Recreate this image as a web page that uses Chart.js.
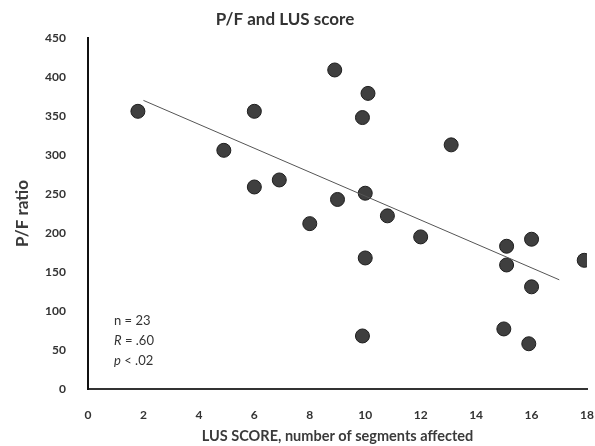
<!DOCTYPE html>
<html lang="en">
<head>
    <meta charset="UTF-8">
    <title>P/F and LUS score</title>
    <script src="https://cdn.jsdelivr.net/npm/chart.js"></script>
    <style>
        * { margin: 0; padding: 0; box-sizing: border-box; }
        body { background: #fff; width: 595px; height: 446px; overflow: hidden; }
        #wrap { position: relative; width: 595px; height: 446px; }
    </style>
</head>
<body>
    <div id="wrap"><canvas id="myChart"></canvas></div>

    <script>
        // LUS score (x) and P/F ratio (y) for each patient
        const lusScore = [1.8, 6.0, 4.9, 8.9, 10.1, 9.9, 6.0, 6.9, 9.0, 10.0, 8.0, 10.0,
                          13.1, 10.8, 12.0, 15.1, 16.0, 17.9, 15.1, 16.0, 9.9, 15.0, 15.9];
        const pfRatio = [356, 356, 306, 409, 379, 348, 259, 268, 243, 251, 212, 168,
                         313, 222, 195, 183, 192, 165, 159, 131, 68, 77, 58];

        // regression line end points
        const trendX = [2, 17];
        const trendY = [370, 140];

        const xTicks = [0, 2, 4, 6, 8, 10, 12, 14, 16, 18];
        const yTicks = [0, 50, 100, 150, 200, 250, 300, 350, 400, 450];

        const statsLines = [
            [['n', false], [' = 23', false]],
            [['R', true], [' = .60', false]],
            [['p', true], [' < .02', false]]
        ];

        const FONT = 'Lato, "Open Sans", sans-serif';

        // title and the n / R / p box
        const textPlugin = {
            id: 'textPlugin',
            afterDraw(chart) {
                const ctx = chart.ctx;
                ctx.save();
                ctx.fillStyle = '#333';
                ctx.textAlign = 'center';
                ctx.textBaseline = 'middle';
                ctx.font = 'bold 17px ' + FONT;
                ctx.fillText('P/F and LUS score', 285, 20);

                ctx.textAlign = 'left';
                let y = 321;
                statsLines.forEach(parts => {
                    let x = 114;
                    parts.forEach(([txt, italic]) => {
                        ctx.font = (italic ? 'italic ' : '') + '13px ' + FONT;
                        ctx.fillText(txt, x, y);
                        x += ctx.measureText(txt).width;
                    });
                    y += 20;
                });
                ctx.restore();
            }
        };

        const ctx = document.getElementById('myChart').getContext('2d');

        const chart = new Chart(ctx, {
            data: {
                datasets: [
                    {
                        type: 'line',
                        data: trendX.map((x, i) => ({ x: x, y: trendY[i] })),
                        borderColor: '#555',
                        borderWidth: 1,
                        pointRadius: 0,
                        fill: false
                    },
                    {
                        type: 'scatter',
                        data: lusScore.map((x, i) => ({ x: x, y: pfRatio[i] })),
                        backgroundColor: '#3f3f3f',
                        borderColor: '#1e1e1e',
                        borderWidth: 1,
                        pointRadius: 7,
                        pointHoverRadius: 7
                    }
                ]
            },
            options: {
                responsive: true,
                maintainAspectRatio: false,
                animation: false,
                layout: { padding: { top: 38, right: 8, left: 0, bottom: 0 } },
                scales: {
                    x: {
                        type: 'linear',
                        min: 0,
                        max: 18,
                        afterBuildTicks: s => { s.ticks = xTicks.map(v => ({ value: v })); },
                        afterFit: s => { s.height = 57; s.paddingLeft = 0; s.paddingRight = 0; },
                        grid: { display: false },
                        border: { display: true, color: '#333', width: 2 },
                        ticks: { color: '#333', padding: 11, font: { family: FONT, size: 12, weight: 'bold' } },
                        title: {
                            display: true,
                            text: 'LUS SCORE, number of segments affected',
                            color: '#3a3a3a',
                            padding: { top: 0, bottom: 1 },
                            font: { family: FONT, size: 14.5, weight: 'bold' }
                        }
                    },
                    y: {
                        min: 0,
                        max: 450,
                        afterBuildTicks: s => { s.ticks = yTicks.map(v => ({ value: v })); },
                        afterFit: s => { s.width = 88; s.paddingTop = 0; s.paddingBottom = 0; },
                        grid: { display: false },
                        border: { display: true, color: '#111', width: 2 },
                        ticks: { color: '#333', padding: 14, font: { family: FONT, size: 12, weight: 'bold' } },
                        title: {
                            display: true,
                            text: 'P/F ratio',
                            color: '#3a3a3a',
                            padding: { top: 12, bottom: 0 },
                            font: { family: FONT, size: 17, weight: 'bold' }
                        }
                    }
                },
                plugins: {
                    legend: { display: false },
                    title: { display: false },
                    tooltip: { enabled: false }
                }
            },
            plugins: [textPlugin]
        });
    </script>
</body>
</html>
